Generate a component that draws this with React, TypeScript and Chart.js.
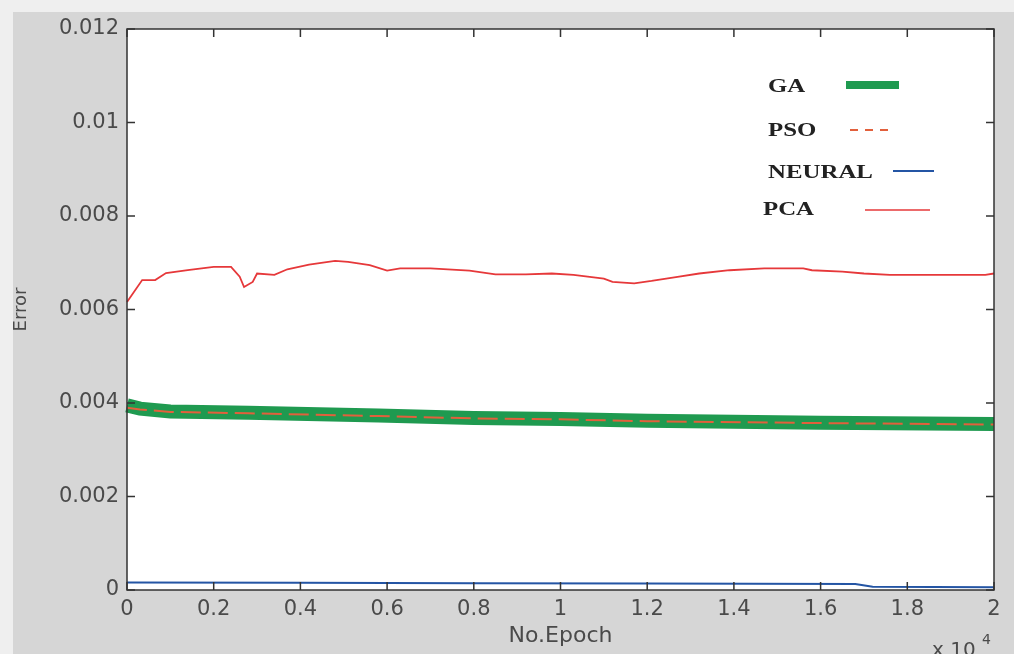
import React, { useEffect, useRef } from 'react';
import { Chart, registerables } from 'chart.js';

Chart.register(...registerables);

// ---- data (error values in units of 1e-3) ----
const gaEpochs = [0, 300, 1000, 2800, 5800, 8000, 10000, 12000, 16000, 20000];
const gaErrors = [3.95, 3.88, 3.82, 3.79, 3.73, 3.68, 3.66, 3.62, 3.58, 3.55];

const psoEpochs = [0, 300, 1000, 2800, 5800, 8000, 10000, 12000, 16000, 20000];
const psoErrors = [3.9, 3.86, 3.81, 3.78, 3.72, 3.67, 3.65, 3.61, 3.57, 3.54];

const neuralEpochs = [0, 4000, 8000, 12000, 16800, 17200, 20000];
const neuralErrors = [0.16, 0.155, 0.145, 0.14, 0.13, 0.07, 0.06];

const pcaEpochs = [
  0, 350, 650, 900, 1400, 2000, 2400, 2600, 2700, 2900, 3000, 3400, 3700, 4200,
  4800, 5100, 5600, 6000, 6300, 7000, 7900, 8500, 9200, 9800, 10300, 11000,
  11200, 11700, 12100, 12700, 13200, 13900, 14700, 15600, 15800, 16500, 17000,
  17600, 19800, 20000,
];
const pcaErrors = [
  6.16, 6.63, 6.63, 6.78, 6.84, 6.91, 6.91, 6.7, 6.48, 6.59, 6.77, 6.74, 6.86,
  6.96, 7.04, 7.02, 6.95, 6.83, 6.88, 6.88, 6.83, 6.75, 6.75, 6.77, 6.74, 6.66,
  6.59, 6.56, 6.61, 6.7, 6.77, 6.84, 6.88, 6.88, 6.84, 6.81, 6.77, 6.74, 6.74,
  6.77,
];

const xTickLabels = ['0', '0.2', '0.4', '0.6', '0.8', '1', '1.2', '1.4', '1.6', '1.8', '2'];
const yTickLabels = ['0', '0.002', '0.004', '0.006', '0.008', '0.01', '0.012'];
const legendLabels = ['GA', 'PSO', 'NEURAL', 'PCA'];

const GREEN = '#1f9a50';
const ORANGE = '#e2603c';
const BLUE = '#2455a4';
const RED = '#e6383a';
const LABEL = '#4a4a4a';
const FRAME = '#333333';

const toPoints = (xs: number[], ys: number[]) => xs.map((x, i) => ({ x, y: ys[i] / 1000 }));

export default function App() {
  const ref = useRef<HTMLCanvasElement>(null);

  useEffect(() => {
    const canvas = ref.current!;

    const bgPlugin = {
      id: 'bgPlugin',
      beforeDraw(chart: any) {
        const { ctx, chartArea: a } = chart;
        ctx.save();
        ctx.fillStyle = '#efefef';
        ctx.fillRect(0, 0, chart.width, chart.height);
        ctx.fillStyle = '#d6d6d6';
        ctx.fillRect(13, 12, chart.width - 13, chart.height - 12);
        ctx.fillStyle = '#ffffff';
        ctx.fillRect(a.left, a.top, a.right - a.left, a.bottom - a.top);
        ctx.restore();
      },
    };

    const framePlugin = {
      id: 'framePlugin',
      afterDatasetsDraw(chart: any) {
        const { ctx, chartArea: a, scales } = chart;
        const tl = 8;
        ctx.save();
        ctx.strokeStyle = FRAME;
        ctx.lineWidth = 1.5;
        ctx.strokeRect(a.left, a.top, a.right - a.left, a.bottom - a.top);
        ctx.beginPath();
        scales.x.ticks.forEach((t: any) => {
          const px = scales.x.getPixelForValue(t.value);
          ctx.moveTo(px, a.bottom);
          ctx.lineTo(px, a.bottom - tl);
          ctx.moveTo(px, a.top);
          ctx.lineTo(px, a.top + tl);
        });
        scales.y.ticks.forEach((t: any) => {
          const py = scales.y.getPixelForValue(t.value);
          ctx.moveTo(a.left, py);
          ctx.lineTo(a.left + tl, py);
          ctx.moveTo(a.right, py);
          ctx.lineTo(a.right - tl, py);
        });
        ctx.stroke();

        // exponent label
        ctx.fillStyle = LABEL;
        ctx.textBaseline = 'alphabetic';
        ctx.textAlign = 'left';
        ctx.font = '20px "DejaVu Sans"';
        ctx.fillText('x 10', 932, 656);
        ctx.font = '14px "DejaVu Sans"';
        ctx.fillText('4', 982, 644);
        ctx.restore();
      },
    };

    const legendItems = [
      { text: legendLabels[0], tx: 768, ty: 86, x1: 846, x2: 899, ly: 85, color: GREEN, width: 8, dash: [] as number[] },
      { text: legendLabels[1], tx: 768, ty: 130, x1: 850, x2: 892, ly: 130, color: ORANGE, width: 2, dash: [8, 7] },
      { text: legendLabels[2], tx: 768, ty: 172, x1: 893, x2: 934, ly: 171, color: BLUE, width: 2, dash: [] as number[] },
      { text: legendLabels[3], tx: 763, ty: 209, x1: 865, x2: 930, ly: 210, color: RED, width: 1.6, dash: [] as number[] },
    ];

    const legendPlugin = {
      id: 'legendPlugin',
      afterDraw(chart: any) {
        const { ctx } = chart;
        ctx.save();
        legendItems.forEach((it) => {
          ctx.save();
          ctx.translate(it.tx, it.ty);
          ctx.scale(1.38, 1);
          ctx.font = 'bold 18px "Liberation Serif"';
          ctx.fillStyle = '#222222';
          ctx.textBaseline = 'middle';
          ctx.textAlign = 'left';
          ctx.fillText(it.text, 0, 1);
          ctx.restore();
          ctx.beginPath();
          ctx.setLineDash(it.dash);
          ctx.strokeStyle = it.color;
          ctx.lineWidth = it.width;
          ctx.moveTo(it.x1, it.ly);
          ctx.lineTo(it.x2, it.ly);
          ctx.stroke();
          ctx.setLineDash([]);
        });
        ctx.restore();
      },
    };

    const tickFont = { family: '"DejaVu Sans"', size: 21 };

    const chart = new Chart(canvas, {
      type: 'line',
      data: {
        datasets: [
          {
            label: 'PSO',
            data: toPoints(psoEpochs, psoErrors),
            borderColor: ORANGE,
            borderWidth: 2,
            borderDash: [20, 7],
            pointRadius: 0,
            order: 0,
          },
          {
            label: 'NEURAL',
            data: toPoints(neuralEpochs, neuralErrors),
            borderColor: BLUE,
            borderWidth: 2,
            pointRadius: 0,
            order: 1,
          },
          {
            label: 'PCA',
            data: toPoints(pcaEpochs, pcaErrors),
            borderColor: RED,
            borderWidth: 1.8,
            pointRadius: 0,
            order: 2,
          },
          {
            label: 'GA',
            data: toPoints(gaEpochs, gaErrors),
            borderColor: GREEN,
            borderWidth: 14,
            pointRadius: 0,
            borderCapStyle: 'butt',
            order: 3,
          },
        ],
      },
      options: {
        responsive: false,
        animation: false,
        clip: false as any,
        layout: { padding: { left: 0, top: 29, right: 20, bottom: 0 } },
        plugins: {
          legend: { display: false },
          tooltip: { enabled: false },
        },
        scales: {
          x: {
            type: 'linear',
            min: 0,
            max: 20000,
            grid: { display: false, drawTicks: false },
            border: { display: false },
            ticks: {
              stepSize: 2000,
              autoSkip: false,
              maxRotation: 0,
              padding: 7,
              color: LABEL,
              font: tickFont,
              callback: (v: any) => xTickLabels[Math.round(Number(v) / 2000)],
            },
            title: {
              display: true,
              text: 'No.Epoch',
              color: LABEL,
              font: { family: '"DejaVu Sans"', size: 22 },
              padding: { top: 0, bottom: 5 },
            },
            afterFit: (s: any) => {
              s.height = 64;
            },
          },
          y: {
            type: 'linear',
            min: 0,
            max: 0.012,
            grid: { display: false, drawTicks: false },
            border: { display: false },
            ticks: {
              stepSize: 0.002,
              padding: 8,
              color: LABEL,
              font: tickFont,
              callback: (v: any) => yTickLabels[Math.round(Number(v) / 0.002)],
            },
            title: {
              display: true,
              text: 'Error',
              color: LABEL,
              font: { family: '"DejaVu Sans"', size: 18 },
              padding: { top: 11, bottom: 0 },
            },
            afterFit: (s: any) => {
              s.width = 127;
            },
          },
        },
      },
      plugins: [bgPlugin, framePlugin, legendPlugin],
    } as any);

    return () => chart.destroy();
  }, []);

  return (
    <div style={{ position: 'absolute', left: 0, top: 0, width: 1014, height: 654 }}>
      <canvas ref={ref} width={1014} height={654} style={{ display: 'block' }} />
    </div>
  );
}
